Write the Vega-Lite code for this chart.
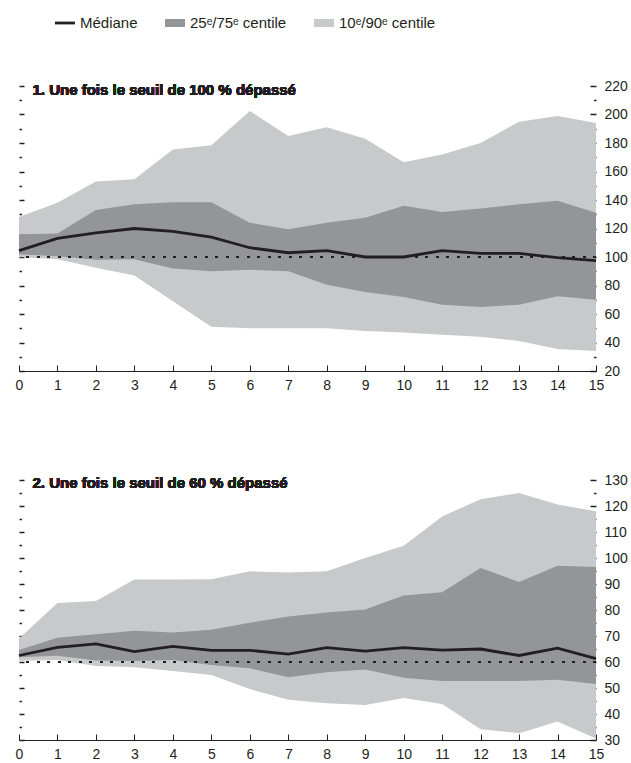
{
  "$schema": "https://vega.github.io/schema/vega-lite/v6.json",
  "background": "white",
  "padding": {"left": 13, "top": 13, "right": 0, "bottom": 0},
  "autosize": {"type": "pad"},
  "spacing": 109,
  "bounds": "flush",
  "config": {
    "view": {"stroke": null},
    "font": "Liberation Sans",
    "axis": {
      "labelFont": "Liberation Sans",
      "labelFontSize": 14,
      "labelColor": "#231f20",
      "tickColor": "#231f20",
      "domainColor": "#231f20",
      "grid": false,
      "title": null,
      "labelOverlap": false,
      "zindex": 1
    }
  },
  "datasets": {
    "seuil100": [
      {"t": 0, "p10": 100, "p25": 102, "med": 104.5, "p75": 116, "p90": 128},
      {"t": 1, "p10": 98.5, "p25": 100.5, "med": 113, "p75": 116.5, "p90": 138},
      {"t": 2, "p10": 92.5, "p25": 98, "med": 117, "p75": 133, "p90": 153},
      {"t": 3, "p10": 87, "p25": 98.5, "med": 120, "p75": 137, "p90": 154.5},
      {"t": 4, "p10": 69, "p25": 92, "med": 118, "p75": 138.5, "p90": 175.5},
      {"t": 5, "p10": 51, "p25": 90, "med": 114, "p75": 138.5, "p90": 178.5},
      {"t": 6, "p10": 50, "p25": 91, "med": 106.5, "p75": 124, "p90": 202.5},
      {"t": 7, "p10": 50, "p25": 90, "med": 103, "p75": 119.5, "p90": 185},
      {"t": 8, "p10": 50, "p25": 80.5, "med": 104.5, "p75": 124, "p90": 191},
      {"t": 9, "p10": 48, "p25": 75.5, "med": 100, "p75": 127.5, "p90": 183},
      {"t": 10, "p10": 47, "p25": 72, "med": 100, "p75": 136, "p90": 166.5},
      {"t": 11, "p10": 45.5, "p25": 66.5, "med": 104.5, "p75": 131.5, "p90": 172},
      {"t": 12, "p10": 44, "p25": 65, "med": 102.5, "p75": 134, "p90": 180},
      {"t": 13, "p10": 41, "p25": 66.5, "med": 102.5, "p75": 137, "p90": 195},
      {"t": 14, "p10": 35.5, "p25": 72.5, "med": 99.5, "p75": 139.5, "p90": 199},
      {"t": 15, "p10": 34, "p25": 70, "med": 97.5, "p75": 131, "p90": 194}
    ],
    "seuil60": [
      {"t": 0, "p10": 60.5, "p25": 61.8, "med": 62.5, "p75": 64.6, "p90": 69},
      {"t": 1, "p10": 60.8, "p25": 62.4, "med": 65.6, "p75": 69.3, "p90": 82.7},
      {"t": 2, "p10": 58.5, "p25": 60.6, "med": 67, "p75": 70.7, "p90": 83.5},
      {"t": 3, "p10": 58, "p25": 60.4, "med": 64, "p75": 72, "p90": 91.7},
      {"t": 4, "p10": 56.5, "p25": 60.8, "med": 66, "p75": 71.3, "p90": 91.7},
      {"t": 5, "p10": 55, "p25": 58.8, "med": 64.5, "p75": 72.4, "p90": 91.8},
      {"t": 6, "p10": 49.6, "p25": 57.6, "med": 64.5, "p75": 75.1, "p90": 94.9},
      {"t": 7, "p10": 45.5, "p25": 54.1, "med": 63, "p75": 77.5, "p90": 94.4},
      {"t": 8, "p10": 44.1, "p25": 56.1, "med": 65.5, "p75": 79, "p90": 94.9},
      {"t": 9, "p10": 43.5, "p25": 57.1, "med": 64.2, "p75": 80.2, "p90": 100},
      {"t": 10, "p10": 46.2, "p25": 53.9, "med": 65.5, "p75": 85.6, "p90": 104.7},
      {"t": 11, "p10": 43.8, "p25": 52.7, "med": 64.6, "p75": 86.8, "p90": 116},
      {"t": 12, "p10": 34.1, "p25": 52.7, "med": 65, "p75": 96.2, "p90": 122.6},
      {"t": 13, "p10": 32.6, "p25": 52.7, "med": 62.5, "p75": 90.8, "p90": 125},
      {"t": 14, "p10": 37.1, "p25": 53.2, "med": 65.3, "p75": 97, "p90": 120.6},
      {"t": 15, "p10": 30.6, "p25": 51.5, "med": 61.3, "p75": 96.5, "p90": 118}
    ]
  },
  "vconcat": [
    {
      "width": 577,
      "height": 285,
      "data": {"name": "seuil100"},
      "resolve": {"axis": {"x": "independent", "y": "independent"}},
      "layer": [
        {
          "mark": {"type": "area", "opacity": 1},
          "encoding": {
            "x": {
              "field": "t", "type": "quantitative",
              "scale": {"domain": [0, 15], "nice": false, "zero": false},
              "axis": {
                "orient": "bottom",
                "values": [0, 1, 2, 3, 4, 5, 6, 7, 8, 9, 10, 11, 12, 13, 14, 15],
                "tickSize": -6,
                "labelPadding": 13,
                "labelFlush": false,
                "domainWidth": 1,
                "tickWidth": 1
              }
            },
            "y": {
              "field": "p10", "type": "quantitative",
              "scale": {"domain": [20, 220], "nice": false, "zero": false},
              "axis": {
                "orient": "left",
                "values": [20, 40, 60, 80, 100, 120, 140, 160, 180, 200, 220],
                "labels": false,
                "domain": false,
                "tickWidth": 1.5,
                "tickSize": -5
              }
            },
            "y2": {"field": "p90"},
            "color": {
              "datum": "10ᵉ/90ᵉ centile",
              "scale": {
                "domain": ["Médiane", "25ᵉ/75ᵉ centile", "10ᵉ/90ᵉ centile"],
                "range": ["#231f20", "#939598", "#c8c9cb"]
              },
              "legend": {
                "orient": "none",
                "legendX": 36,
                "legendY": -73,
                "direction": "horizontal",
                "title": null,
                "padding": 0,
                "symbolSize": 400,
                "symbolStrokeWidth": 0,
                "symbolOpacity": 1,
                "labelFont": "Liberation Sans",
                "labelFontSize": 15,
                "labelColor": "#231f20",
                "labelOffset": 5,
                "columnPadding": 27,
                "encode": {
                  "symbols": {
                    "update": {
                      "shape": {"signal": "datum.value === 'Médiane' ? 'M-1,-0.14H1V0.14H-1Z' : 'M-1,-0.4H1V0.4H-1Z'"},
                      "fill": {"signal": "scale('color', datum.value)"},
                      "stroke": {"value": "transparent"},
                      "opacity": {"value": 1}
                    }
                  }
                }
              }
            }
          }
        },
        {
          "mark": {"type": "area", "opacity": 1},
          "encoding": {
            "x": {"field": "t", "type": "quantitative", "axis": null},
            "y": {
              "field": "p25", "type": "quantitative",
              "axis": {
                "orient": "right",
                "values": [20, 40, 60, 80, 100, 120, 140, 160, 180, 200, 220],
                "domain": false,
                "tickWidth": 1.5,
                "tickSize": -6,
                "labelPadding": 14
              }
            },
            "y2": {"field": "p75"},
            "color": {"datum": "25ᵉ/75ᵉ centile"}
          }
        },
        {
          "mark": {"type": "rule", "color": "#231f20", "strokeWidth": 1, "strokeDash": [2.5, 8]},
          "encoding": {
            "y": {
              "datum": 100, "type": "quantitative",
              "axis": {
                "orient": "left",
                "values": [30, 50, 70, 90, 110, 130, 150, 170, 190, 210],
                "labels": false,
                "domain": false,
                "tickWidth": 1.5,
                "tickSize": -2.5
              }
            }
          }
        },
        {
          "mark": {"type": "line", "strokeWidth": 2.8, "opacity": 1},
          "encoding": {
            "x": {"field": "t", "type": "quantitative", "axis": null},
            "y": {
              "field": "med", "type": "quantitative",
              "axis": {
                "orient": "right",
                "values": [30, 50, 70, 90, 110, 130, 150, 170, 190, 210],
                "labels": false,
                "domain": false,
                "tickWidth": 1.5,
                "tickSize": -2.5
              }
            },
            "color": {"datum": "Médiane"}
          }
        },
        {
          "mark": {"type": "text", "align": "left", "baseline": "middle", "font": "Liberation Sans", "fontWeight": "bold", "fontSize": 15, "color": "#231f20"},
          "encoding": {
            "x": {"datum": 0.35, "type": "quantitative", "axis": null},
            "y": {"datum": 217.5, "type": "quantitative", "axis": null},
            "text": {"value": "1. Une fois le seuil de 100 % dépassé"}
          }
        }
      ]
    },
    {
      "width": 577,
      "height": 260,
      "data": {"name": "seuil60"},
      "resolve": {"axis": {"x": "independent", "y": "independent"}},
      "layer": [
        {
          "mark": {"type": "area", "opacity": 1},
          "encoding": {
            "x": {
              "field": "t", "type": "quantitative",
              "scale": {"domain": [0, 15], "nice": false, "zero": false},
              "axis": {
                "orient": "bottom",
                "values": [0, 1, 2, 3, 4, 5, 6, 7, 8, 9, 10, 11, 12, 13, 14, 15],
                "tickSize": -6,
                "labelPadding": 13,
                "labelFlush": false,
                "domainWidth": 1,
                "tickWidth": 1
              }
            },
            "y": {
              "field": "p10", "type": "quantitative",
              "scale": {"domain": [30, 130], "nice": false, "zero": false},
              "axis": {
                "orient": "left",
                "values": [30, 40, 50, 60, 70, 80, 90, 100, 110, 120, 130],
                "labels": false,
                "domain": false,
                "tickWidth": 1.5,
                "tickSize": -5
              }
            },
            "y2": {"field": "p90"},
            "color": {"datum": "10ᵉ/90ᵉ centile"}
          }
        },
        {
          "mark": {"type": "area", "opacity": 1},
          "encoding": {
            "x": {"field": "t", "type": "quantitative", "axis": null},
            "y": {
              "field": "p25", "type": "quantitative",
              "axis": {
                "orient": "right",
                "values": [30, 40, 50, 60, 70, 80, 90, 100, 110, 120, 130],
                "domain": false,
                "tickWidth": 1.5,
                "tickSize": -6,
                "labelPadding": 14
              }
            },
            "y2": {"field": "p75"},
            "color": {"datum": "25ᵉ/75ᵉ centile"}
          }
        },
        {
          "mark": {"type": "rule", "color": "#231f20", "strokeWidth": 1, "strokeDash": [2.5, 8]},
          "encoding": {
            "y": {
              "datum": 60, "type": "quantitative",
              "axis": {
                "orient": "left",
                "values": [35, 45, 55, 65, 75, 85, 95, 105, 115, 125],
                "labels": false,
                "domain": false,
                "tickWidth": 1.5,
                "tickSize": -2.5
              }
            }
          }
        },
        {
          "mark": {"type": "line", "strokeWidth": 2.8, "opacity": 1},
          "encoding": {
            "x": {"field": "t", "type": "quantitative", "axis": null},
            "y": {
              "field": "med", "type": "quantitative",
              "axis": {
                "orient": "right",
                "values": [35, 45, 55, 65, 75, 85, 95, 105, 115, 125],
                "labels": false,
                "domain": false,
                "tickWidth": 1.5,
                "tickSize": -2.5
              }
            },
            "color": {"datum": "Médiane"}
          }
        },
        {
          "mark": {"type": "text", "align": "left", "baseline": "middle", "font": "Liberation Sans", "fontWeight": "bold", "fontSize": 15, "color": "#231f20"},
          "encoding": {
            "x": {"datum": 0.35, "type": "quantitative", "axis": null},
            "y": {"datum": 128.8, "type": "quantitative", "axis": null},
            "text": {"value": "2. Une fois le seuil de 60 % dépassé"}
          }
        }
      ]
    }
  ]
}
